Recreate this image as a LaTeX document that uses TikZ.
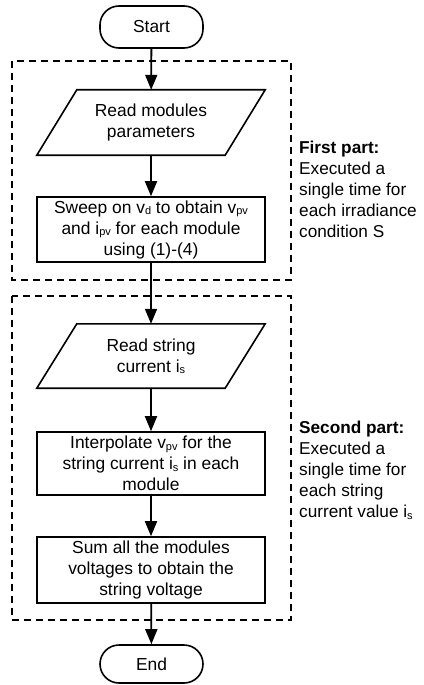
\documentclass[tikz,border=0pt]{standalone}
\usepackage{fontspec}
\setmainfont{Liberation Sans}
\usetikzlibrary{arrows.meta}
\newcommand{\lowsub}[1]{\raisebox{-0.15ex}{\fontsize{11bp}{11bp}\selectfont #1}}
\tikzset{
  lbl/.style={font=\fontsize{17.4bp}{21bp}\selectfont, align=center, inner sep=0pt},
  proc/.style={lbl, draw, line width=1.6bp, minimum width=228bp},
  paraslot/.style={lbl, minimum width=188bp},
  term/.style={lbl, draw, line width=1.6bp, minimum width=103bp, rounded corners=19bp},
  outline/.style={line width=1.6bp, line join=miter},
  flow/.style={line width=1.8bp, -{Triangle[length=15bp,width=12bp]}},
  group/.style={line width=1.4bp, dash pattern=on 7bp off 5bp},
  note/.style={font=\fontsize{17.2bp}{21bp}\selectfont, align=left, inner sep=0pt, anchor=north west}
}
\begin{document}
\begin{tikzpicture}[x=1bp,y=-1bp]
\useasboundingbox (0,0) rectangle (423,685);
% groups
\draw[group] (12,61) rectangle (291,280);
\draw[group] (12,296) rectangle (291,620);
% nodes
\node[term, minimum height=42bp] (start) at (151.5,27) {Start};
\node[paraslot, minimum height=65bp] (p1) at (151,122.5) {Read modules\\parameters};
\node[proc, minimum height=65bp] (b2) at (151,229.5) {Sweep on v\lowsub{d} to obtain v\lowsub{pv}\\and i\lowsub{pv} for each module\\using (1)-(4)};
\node[paraslot, minimum height=64bp] (p2) at (151,356) {Read string\\current i\lowsub{s}};
\node[proc, minimum height=63bp] (b3) at (151,463.5) {Interpolate v\lowsub{pv} for the\\string current i\lowsub{s} in each\\module};
\node[proc, minimum height=66bp] (b4) at (151,570) {Sum all the modules\\voltages to obtain the\\string voltage};
\node[term, minimum height=38bp] (end) at (151.5,664) {End};
% parallelograms
\draw[outline] ([xshift=20bp]p1.north west) -- ([xshift=20bp]p1.north east) -- ([xshift=-20bp]p1.south east) -- ([xshift=-20bp]p1.south west) -- cycle;
\draw[outline] ([xshift=20bp]p2.north west) -- ([xshift=20bp]p2.north east) -- ([xshift=-20bp]p2.south east) -- ([xshift=-20bp]p2.south west) -- cycle;
% flow
\draw[flow] (start) -- (p1);
\draw[flow] (p1) -- (b2);
\draw[flow] (b2) -- (p2);
\draw[flow] (p2) -- (b3);
\draw[flow] (b3) -- (b4);
\draw[flow] (b4) -- (end);
% notes
\node[note] (n1) at (299,141) {\textbf{First part:}\\Executed a\\single time for\\each irradiance\\condition S};
\node[note] (n2) at (299,421) {\textbf{Second part:}\\Executed a\\single time for\\each string\\current value i\lowsub{s}};
\end{tikzpicture}
\end{document}
